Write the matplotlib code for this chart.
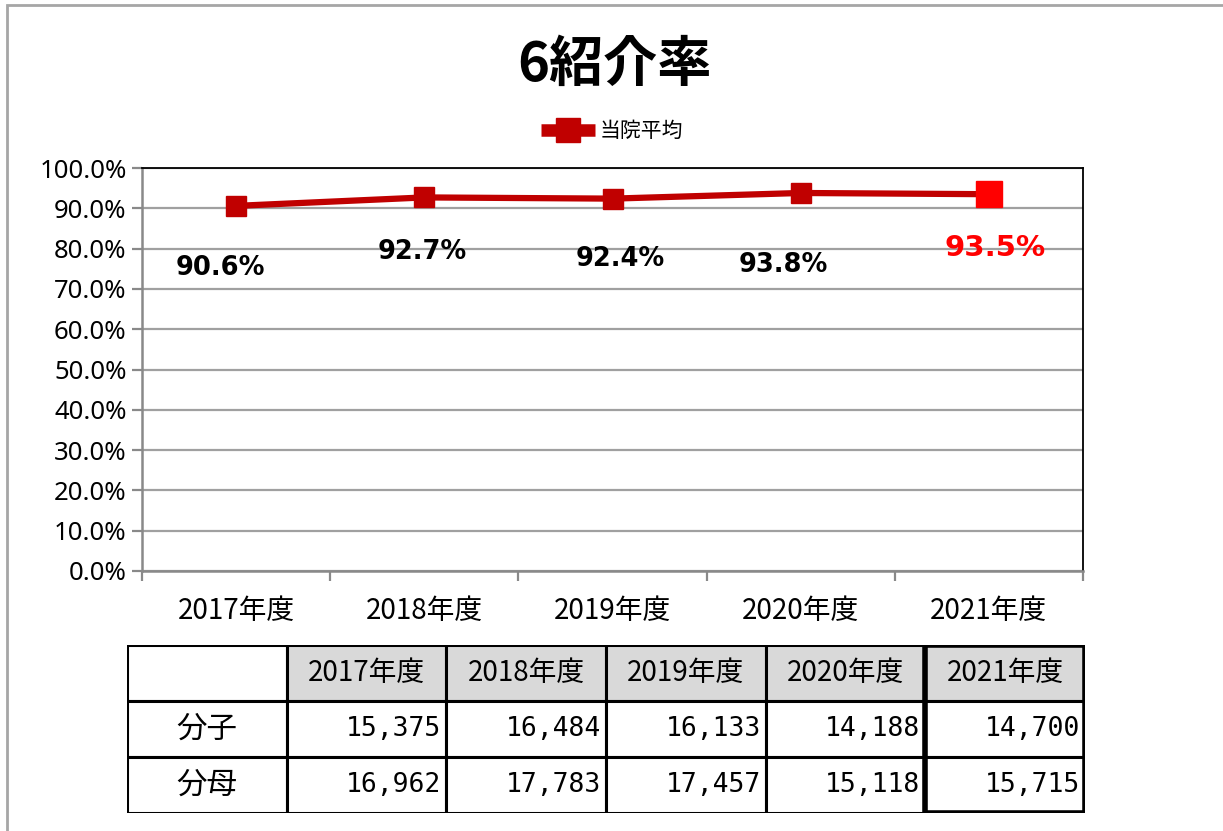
import matplotlib.pyplot as plt
from matplotlib.patches import Rectangle
from matplotlib.lines import Line2D

# data
years = ["2017年度", "2018年度", "2019年度", "2020年度", "2021年度"]
rates = [90.6, 92.7, 92.4, 93.8, 93.5]
numerators = [15375, 16484, 16133, 14188, 14700]
denominators = [16962, 17783, 17457, 15118, 15715]
row_names = ["分子", "分母"]
# label offsets (pixels) below each point, tuned by eye
label_dx = [-16, -2, 8, -17, 6]
label_dy = [-62, -55, -60, -72, -54]

W, H = 1223, 831
JP = ["Noto Sans CJK JP", "DejaVu Sans"]
SANS = ["Noto Sans", "DejaVu Sans"]
MONO = ["DejaVu Sans Mono"]

fig = plt.figure(figsize=(W / 100, H / 100), dpi=100)

# light grey outer frame (only top and left visible in the reference)
fig.patches.append(Rectangle((7 / W, -0.1), 1.2, 1 - 5 / H + 0.1, transform=fig.transFigure,
                             fill=False, edgecolor="#A6A6A6", lw=2))

ax = fig.add_axes([142 / W, 1 - 571 / H, (1083 - 142) / W, (571 - 168) / H])
x = list(range(len(years)))
ax.plot(x, rates, color="#C00000", lw=4.5, marker="s", ms=14.5, mfc="#C00000", mec="#C00000",
        zorder=3, solid_capstyle="butt")
# last point highlighted in bright red
ax.plot(x[-1], rates[-1], marker="s", ms=19, color="#FF0000", zorder=4)

for i, v in enumerate(rates):
    last = i == len(rates) - 1
    ax.annotate(f"{v:.1f}%", (i, v), xytext=(label_dx[i], label_dy[i]), textcoords="offset pixels",
                ha="center", va="center", fontsize=21 if last else 18.5, fontweight="bold",
                color="#FF0000" if last else "black", family="DejaVu Sans")

ax.set_ylim(0, 100)
ax.set_xlim(-0.5, len(years) - 0.5)
ax.set_yticks(range(0, 101, 10))
ax.set_yticklabels([f"{t:.1f}%" for t in range(0, 101, 10)], family=SANS, fontsize=18.5)
ax.grid(axis="y", color="#A0A0A0", lw=1.6)
ax.set_axisbelow(True)
ax.set_xticks(x)
ax.set_xticklabels(years, family=JP, fontsize=20)
ax.tick_params(axis="x", which="major", length=0, pad=18)
ax.set_xticks([i - 0.5 for i in range(len(years) + 1)], minor=True)
ax.tick_params(axis="x", which="minor", length=7, width=1.6, color="#898989")
ax.tick_params(axis="y", length=7, width=1.6, color="#898989", pad=4)
for s in ["left", "bottom"]:
    ax.spines[s].set_color("#898989")
    ax.spines[s].set_linewidth(1.8)
for s in ["top", "right"]:
    ax.spines[s].set_color("black")
    ax.spines[s].set_linewidth(1.3)

fig.text(614 / W, 1 - 65 / H, "6紹介率", ha="center", va="center", fontsize=39,
         fontweight="bold", family=JP)

handle = Line2D([], [], color="#C00000", lw=9, marker="s", ms=17, solid_capstyle="butt")
fig.legend([handle], ["当院平均"], loc="center", bbox_to_anchor=(612 / W, 1 - 131 / H),
           frameon=False, prop={"family": JP, "size": 15}, handlelength=2.6,
           handletextpad=0.2)

# data table under the chart
tax = fig.add_axes([127 / W, 1 - 813 / H, (1085 - 127) / W, (813 - 645) / H])
ncol = len(years) + 1
tax.set_xlim(0, ncol)
tax.set_ylim(0, 3)
tax.axis("off")
for c in range(ncol):
    face = "white" if c == 0 else "#D9D9D9"
    tax.add_patch(Rectangle((c, 2), 1, 1, facecolor=face, edgecolor="black", lw=2.2))
    if c > 0:
        tax.text(c + 0.5, 2.5, years[c - 1], ha="center", va="center", family=JP, fontsize=20)
rows = [numerators, denominators]
for r, vals in enumerate(rows):
    y0 = 1 - r
    tax.add_patch(Rectangle((0, y0), 1, 1, facecolor="white", edgecolor="black", lw=2.2))
    tax.text(0.5, y0 + 0.5, row_names[r], ha="center", va="center", family=JP, fontsize=22)
    for c, v in enumerate(vals):
        tax.add_patch(Rectangle((c + 1, y0), 1, 1, facecolor="white", edgecolor="black", lw=2.2))
        tax.text(c + 1.97, y0 + 0.5, f"{v:,}", ha="right", va="center", family=MONO, fontsize=19)
# thick outline on the latest year column
tax.add_patch(Rectangle((ncol - 1, 0), 1, 3, fill=False, edgecolor="black", lw=4, zorder=5))

fig.savefig("out.png", dpi=100)
